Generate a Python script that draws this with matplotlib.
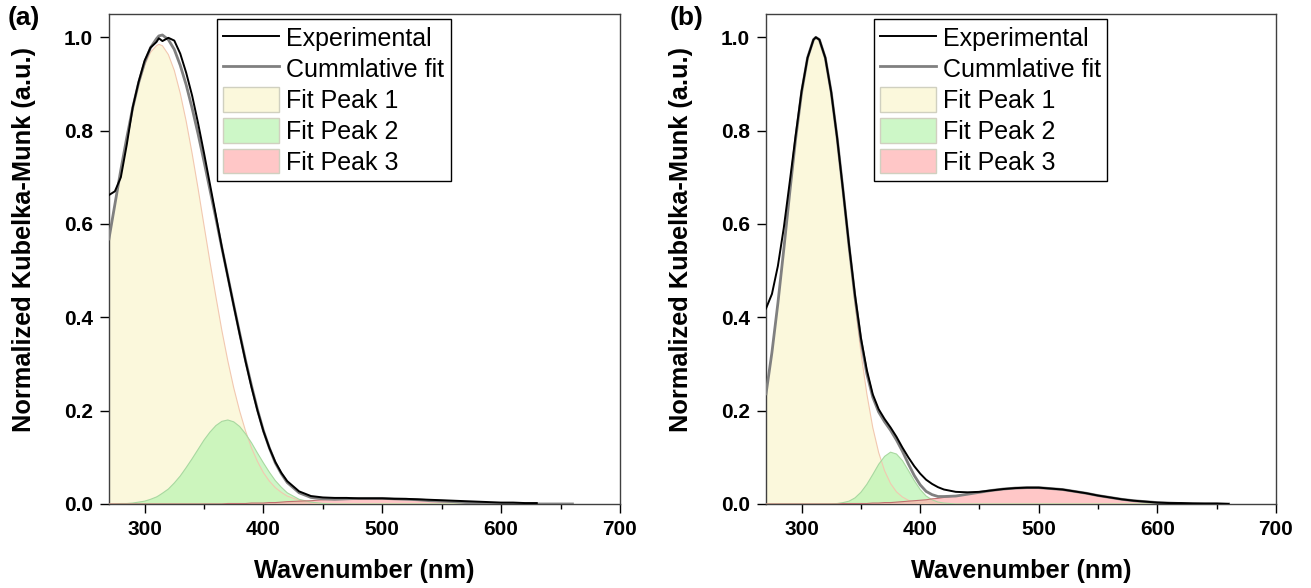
import numpy as np
import matplotlib
matplotlib.use("Agg")
import matplotlib.pyplot as plt

plt.rcParams['font.family'] = ['Liberation Sans', 'DejaVu Sans']

# wavelength grid (nm): 5 nm steps over the peaks, 10 nm in the tail
wavelength = [270, 275, 280, 285, 290, 295, 300, 305, 310, 312, 315,
              320, 325, 330, 335, 340, 345, 350, 355, 360, 365,
              370, 375, 380, 385, 390, 395, 400, 405, 410, 415,
              420, 430, 440, 450, 460, 470, 480, 490, 500, 510,
              520, 530, 540, 550, 560, 570, 580, 590, 600, 610,
              620, 630, 640, 650, 660]
nan = np.nan

# ---- sample (a) ----
exp_a = [0.662, 0.670, 0.700, 0.770, 0.850, 0.905, 0.950, 0.978, 0.990, 0.998, 0.992,
         0.999, 0.993, 0.965, 0.924, 0.875, 0.816, 0.752, 0.685, 0.618, 0.550,
         0.487, 0.425, 0.364, 0.305, 0.250, 0.200, 0.156, 0.120, 0.090, 0.067,
         0.049, 0.027, 0.017, 0.014, 0.013, 0.013, 0.012, 0.012, 0.012, 0.011,
         0.011, 0.010, 0.009, 0.008, 0.007, 0.006, 0.005, 0.004, 0.003, 0.003,
         0.002, 0.002, nan, nan, nan]
cum_a = [0.568, 0.642, 0.716, 0.785, 0.849, 0.903, 0.946, 0.978, 0.997, 1.003, 1.005,
         0.995, 0.974, 0.940, 0.898, 0.848, 0.793, 0.734, 0.673, 0.612, 0.549,
         0.488, 0.426, 0.366, 0.307, 0.253, 0.202, 0.157, 0.120, 0.088, 0.065,
         0.046, 0.024, 0.014, 0.011, 0.010, 0.011, 0.012, 0.012, 0.012, 0.011,
         0.010, 0.009, 0.007, 0.006, 0.005, 0.003, 0.002, 0.001, 0.001, 0.000,
         0.000, 0.000, 0.000, 0.000, 0.000]
p1_a = [0.568, 0.642, 0.715, 0.784, 0.847, 0.899, 0.940, 0.968, 0.982, 0.985, 0.982,
        0.963, 0.929, 0.880, 0.820, 0.751, 0.676, 0.597, 0.519, 0.444, 0.372,
        0.307, 0.249, 0.199, 0.156, 0.120, 0.091, 0.067, 0.049, 0.035, 0.025,
        0.017, 0.008, 0.003, 0.001, 0, 0, 0, 0, 0, 0,
        0, 0, 0, 0, 0, 0, 0, 0, 0, 0,
        0, 0, 0, 0, 0]
p2_a = [0.000, 0.000, 0.001, 0.001, 0.002, 0.004, 0.006, 0.010, 0.015, 0.018, 0.023,
        0.032, 0.045, 0.060, 0.078, 0.097, 0.117, 0.137, 0.154, 0.168, 0.177,
        0.180, 0.176, 0.166, 0.150, 0.131, 0.109, 0.088, 0.068, 0.050, 0.036,
        0.024, 0.010, 0.004, 0.001, 0, 0, 0, 0, 0, 0,
        0, 0, 0, 0, 0, 0, 0, 0, 0, 0,
        0, 0, 0, 0, 0]
p3_a = [0, 0, 0, 0, 0, 0, 0, 0, 0, 0, 0,
        0, 0, 0, 0, 0, 0, 0, 0, 0, 0,
        0.001, 0.001, 0.001, 0.001, 0.002, 0.002, 0.002, 0.003, 0.003, 0.004,
        0.005, 0.006, 0.007, 0.009, 0.010, 0.011, 0.012, 0.012, 0.012, 0.011,
        0.010, 0.009, 0.007, 0.006, 0.005, 0.003, 0.002, 0.001, 0.001, 0,
        0, 0, 0, 0, 0]

# ---- sample (b) ----
exp_b = [0.419, 0.450, 0.510, 0.592, 0.690, 0.790, 0.885, 0.956, 0.995, 1.000, 0.995,
         0.956, 0.882, 0.784, 0.671, 0.555, 0.448, 0.356, 0.287, 0.235, 0.203,
         0.182, 0.164, 0.144, 0.121, 0.100, 0.081, 0.065, 0.052, 0.043, 0.036,
         0.031, 0.026, 0.025, 0.026, 0.029, 0.032, 0.034, 0.035, 0.035, 0.033,
         0.031, 0.027, 0.023, 0.018, 0.014, 0.010, 0.007, 0.005, 0.003, 0.002,
         0.002, 0.001, 0.001, 0.001, 0.000]
cum_b = [0.236, 0.325, 0.430, 0.546, 0.667, 0.783, 0.882, 0.956, 0.995, 1.000, 0.995,
         0.956, 0.882, 0.784, 0.671, 0.553, 0.444, 0.351, 0.279, 0.229, 0.197,
         0.176, 0.158, 0.137, 0.113, 0.086, 0.061, 0.041, 0.027, 0.020, 0.016,
         0.016, 0.017, 0.021, 0.025, 0.029, 0.032, 0.034, 0.035, 0.035, 0.033,
         0.031, 0.027, 0.023, 0.018, 0.014, 0.010, 0.007, 0.005, 0.003, 0.002,
         0.001, 0.001, 0.000, 0.000, 0.000]
p1_b = [0.236, 0.325, 0.430, 0.546, 0.667, 0.783, 0.882, 0.956, 0.995, 1.000, 0.995,
        0.956, 0.882, 0.783, 0.667, 0.546, 0.430, 0.325, 0.236, 0.164, 0.110,
        0.071, 0.044, 0.026, 0.015, 0.008, 0.004, 0.002, 0.001, 0, 0,
        0, 0, 0, 0, 0, 0, 0, 0, 0, 0,
        0, 0, 0, 0, 0, 0, 0, 0, 0, 0,
        0, 0, 0, 0, 0]
p2_b = [0, 0, 0, 0, 0, 0, 0, 0, 0, 0, 0,
        0, 0, 0.001, 0.003, 0.006, 0.013, 0.025, 0.042, 0.063, 0.085,
        0.102, 0.111, 0.107, 0.093, 0.072, 0.050, 0.031, 0.017, 0.009, 0.004,
        0.002, 0, 0, 0, 0, 0, 0, 0, 0, 0,
        0, 0, 0, 0, 0, 0, 0, 0, 0, 0,
        0, 0, 0, 0, 0]
p3_b = [0, 0, 0, 0, 0, 0, 0, 0, 0, 0, 0,
        0, 0, 0, 0.001, 0.001, 0.001, 0.001, 0.001, 0.002, 0.002,
        0.003, 0.003, 0.004, 0.005, 0.006, 0.007, 0.008, 0.009, 0.011, 0.012,
        0.014, 0.017, 0.021, 0.025, 0.029, 0.032, 0.034, 0.035, 0.035, 0.033,
        0.031, 0.027, 0.023, 0.018, 0.014, 0.010, 0.007, 0.005, 0.003, 0.002,
        0.001, 0.001, 0, 0, 0]

legend_labels = ['Experimental', 'Cummlative fit', 'Fit Peak 1', 'Fit Peak 2', 'Fit Peak 3']
panel_tags = ['(a)', '(b)']

fig = plt.figure(figsize=(13.11, 5.88), dpi=100)
ax_a = fig.add_axes([0.0831, 0.1429, 0.3898, 0.8333])
ax_b = fig.add_axes([0.5843, 0.1429, 0.3890, 0.8333])


def draw_panel(ax, exp, cum, p1, p2, p3):
    x = np.array(wavelength)
    ax.fill_between(x, 0, p1, facecolor='#FBF8DC', edgecolor='none', zorder=1, label=legend_labels[2])
    ax.fill_between(x, 0, p2, facecolor='#B8F5B0', alpha=0.7, edgecolor='none', zorder=2, label=legend_labels[3])
    ax.fill_between(x, 0, p3, facecolor='#FFB0B0', alpha=0.7, edgecolor='none', zorder=3, label=legend_labels[4])
    ax.plot(x, p1, color='#F2C8B0', lw=0.8, zorder=4)
    ax.plot(x, p2, color='#A8D8A0', lw=0.8, zorder=4)
    ax.plot(x, p3, color='#C07070', lw=0.8, zorder=4)
    ax.plot(x, cum, color='#808080', lw=2.0, zorder=5, label=legend_labels[1])
    ax.plot(x, exp, color='black', lw=1.4, zorder=6, label=legend_labels[0])

    ax.set_xlim(270, 700)
    ax.set_ylim(0, 1.05)
    ax.set_xticks([300, 400, 500, 600, 700])
    ax.set_xticks([350, 450, 550, 650], minor=True)
    ax.set_yticks([0.0, 0.2, 0.4, 0.6, 0.8, 1.0])
    ax.set_yticklabels(['0.0', '0.2', '0.4', '0.6', '0.8', '1.0'])
    ax.tick_params(which='major', direction='out', length=6.5, width=1, labelsize=15, pad=5)
    ax.tick_params(which='minor', direction='out', length=3.5, width=1)
    for lab in ax.get_xticklabels() + ax.get_yticklabels():
        lab.set_fontweight('bold')
    for sp in ax.spines.values():
        sp.set_color('#404040')
        sp.set_linewidth(1.0)

    ax.set_xlabel('Wavenumber (nm)', fontsize=18.3, fontweight='bold')
    ax.set_ylabel('Normalized Kubelka-Munk (a.u.)', fontsize=18.3, fontweight='bold')
    ax.xaxis.set_label_coords(0.5, -0.113)
    ax.yaxis.set_label_coords(-0.143, 0.539)

    handles, labels = ax.get_legend_handles_labels()
    order = [labels.index(l) for l in legend_labels]
    leg = ax.legend([handles[i] for i in order], [labels[i] for i in order],
                    loc='upper left', bbox_to_anchor=(0.211, 0.99), borderaxespad=0,
                    fontsize=18, frameon=True, fancybox=False, framealpha=1,
                    edgecolor='black', borderpad=0.25, handlelength=2.25,
                    handleheight=1.15, handletextpad=0.28, labelspacing=0.2)
    leg.get_frame().set_linewidth(1.0)
    for patch in leg.get_patches():
        patch.set_edgecolor('#D0D0C0')
        patch.set_linewidth(1.0)


draw_panel(ax_a, exp_a, cum_a, p1_a, p2_a, p3_a)
draw_panel(ax_b, exp_b, cum_b, p1_b, p2_b, p3_b)

fig.text(8 / 1311, 1 - 6 / 588, panel_tags[0], fontsize=19, fontweight='bold', ha='left', va='top')
fig.text(670 / 1311, 1 - 6 / 588, panel_tags[1], fontsize=19, fontweight='bold', ha='left', va='top')

fig.savefig('out.png', dpi=100)
